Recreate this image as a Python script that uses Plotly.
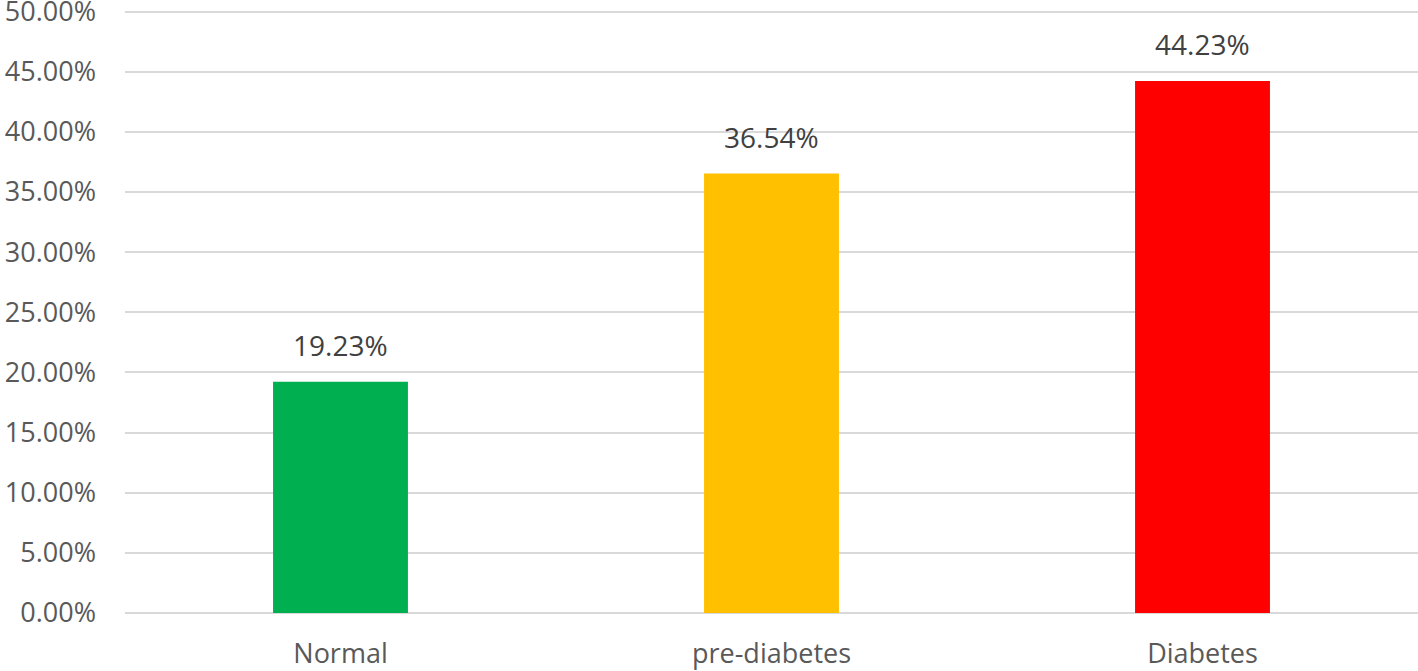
import plotly.graph_objects as go

categories = ["Normal", "pre-diabetes", "Diabetes"]
values = [19.23, 36.54, 44.23]
colors = ["#00B050", "#FFC000", "#FF0000"]
tick_vals = [0, 5, 10, 15, 20, 25, 30, 35, 40, 45, 50]
tick_text = [f"{v:.2f}%" for v in tick_vals]

fig = go.Figure()
fig.add_trace(go.Bar(
    x=categories, y=values, marker_color=colors, marker_line_width=0,
    width=0.313, hoverinfo="skip",
))
for c, v in zip(categories, values):
    fig.add_annotation(x=c, y=v, text=f"{v:.2f}%", showarrow=False,
                       yanchor="bottom", yshift=16,
                       font=dict(family="Open Sans", size=28, color="#404040"))

fig.update_layout(
    width=1418, height=671,
    margin=dict(l=125, r=0, t=8, b=58),
    plot_bgcolor="white", paper_bgcolor="white",
    showlegend=False,
    font=dict(family="Open Sans", size=27, color="#595959"),
    xaxis=dict(showline=False, ticks="", automargin=False, ticklabelstandoff=22,
               tickfont=dict(size=27, color="#595959")),
    yaxis=dict(range=[0, 50.3], tickvals=tick_vals, ticktext=tick_text,
               showgrid=True, gridcolor="#D9D9D9", gridwidth=2,
               zeroline=True, zerolinecolor="#D9D9D9", zerolinewidth=2,
               ticks="", ticklabelstandoff=28, automargin=False,
               ticklabeloverflow="allow",
               tickfont=dict(size=27, color="#595959")),
)
fig.write_html("out.html", config={"displayModeBar": False},
               post_script="document.body.style.margin='0';document.body.style.overflow='hidden';")
